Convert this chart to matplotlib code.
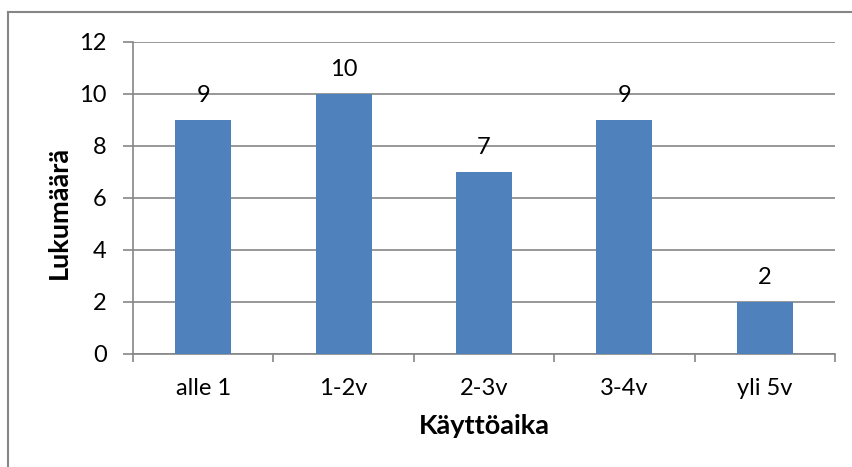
import matplotlib
matplotlib.use("Agg")
import matplotlib.pyplot as plt
from matplotlib.lines import Line2D

categories = ["alle 1", "1-2v", "2-3v", "3-4v", "yli 5v"]
counts = [9, 10, 7, 9, 2]
yticks = [0, 2, 4, 6, 8, 10, 12]

plt.rcParams["font.family"] = ["Lato", "DejaVu Sans"]

W, H = 853, 467
fig = plt.figure(figsize=(W / 100, H / 100), dpi=100)
ax = fig.add_axes([133 / W, 1 - 354 / H, (835 - 133) / W, (354 - 42) / H])

grey = "#868686"
bar_color = "#4F81BD"
fs = 17
title_fs = 19.5

x = list(range(len(categories)))
bars = ax.bar(x, counts, width=0.40, color=bar_color, zorder=3)
for xi, v in zip(x, counts):
    ax.annotate(str(v), (xi, v), xytext=(0, 10), textcoords="offset points",
                ha="center", va="bottom", fontsize=fs, color="black")

ax.set_xlim(-0.5, len(categories) - 0.5)
ax.set_ylim(0, 12)
ax.set_yticks(yticks)
ax.set_yticklabels([str(t) for t in yticks], fontsize=fs)
ax.set_xticks(x)
ax.set_xticklabels(categories, fontsize=fs)
ax.set_xticks([i - 0.5 for i in range(len(categories) + 1)], minor=True)

ax.yaxis.grid(True, color=grey, linewidth=1.2, zorder=0)
ax.set_axisbelow(True)

for side in ["top", "right"]:
    ax.spines[side].set_visible(False)
for side in ["left", "bottom"]:
    ax.spines[side].set_color(grey)
    ax.spines[side].set_linewidth(1.2)

ax.tick_params(axis="y", which="major", length=7, width=1.2, color=grey, pad=12)
ax.tick_params(axis="x", which="major", length=0, pad=17)
ax.tick_params(axis="x", which="minor", length=6, width=1.2, color=grey)

ax.set_ylabel("Lukumäärä", fontsize=title_fs, fontweight="bold")
ax.set_xlabel("Käyttöaika", fontsize=title_fs, fontweight="bold")
ax.yaxis.set_label_coords(-0.089, 0.455)
ax.xaxis.set_label_coords(0.5, -0.192)

# chart area frame (top and left edges)
fig.add_artist(Line2D([8 / W, 1.0], [1 - 12 / H, 1 - 12 / H], color=grey, linewidth=1.5,
                      transform=fig.transFigure))
fig.add_artist(Line2D([8 / W, 8 / W], [0.0, 1 - 12 / H], color=grey, linewidth=1.5,
                      transform=fig.transFigure))

fig.savefig("out.png", dpi=100)
